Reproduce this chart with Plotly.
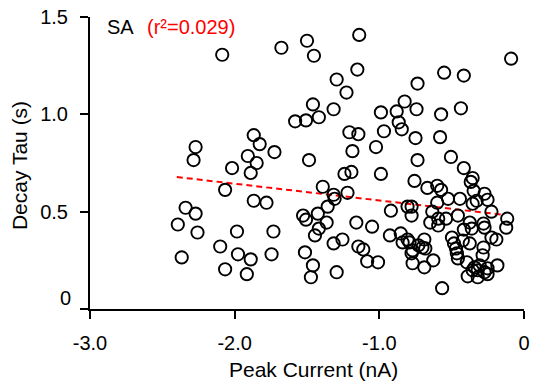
import plotly.graph_objects as go

# Peak current (nA) and decay tau (s)
peak_current = [
    -2.086, -1.677, -2.270, -2.284, -1.868, -1.827, -1.725, -1.909, -1.848,
    -2.018, -1.889, -2.066, -1.868, -1.780, -2.339, -2.270, -2.393, -2.257, -1.984,
    -1.732, -2.100, -2.366, -1.977, -1.889, -1.745, -2.066, -1.916,
    -1.500, -1.452, -1.139, -1.152, -1.295, -1.227, -1.459, -1.316, -1.582, -1.507,
    -1.418, -0.989, -0.880, -0.866, -0.845, -0.825, -0.736, -0.743, -0.552, -0.416,
    -0.089, -0.573, -0.436, -1.207, -1.145, -0.968, -0.750, -0.580, -1.486, -1.186,
    -1.023, -0.736, -0.505, -0.416, -1.241, -1.193, -0.989, -0.757,
    -1.391, -1.316, -1.309, -1.220, -1.357, -1.425, -1.527, -1.507, -1.364, -1.418,
    -1.445, -1.159, -1.050, -0.920, -0.927, -1.316, -1.255, -1.145, -1.111, -1.514,
    -1.084, -1.009, -1.459, -1.295, -1.473,
    -0.668, -0.600, -0.573, -0.525, -0.443, -0.600, -0.805, -0.777, -0.777, -0.634,
    -0.593, -0.539, -0.648, -0.593, -0.852, -0.839, -0.805, -0.791, -0.770, -0.730,
    -0.702, -0.689, -0.682, -0.777, -0.770, -0.689, -0.627, -0.566,
    -0.355, -0.368, -0.348, -0.273, -0.252, -0.327, -0.355, -0.225, -0.116, -0.123,
    -0.457, -0.375, -0.361, -0.416, -0.280, -0.273, -0.225, -0.191, -0.498, -0.484,
    -0.470, -0.464, -0.457, -0.423, -0.375, -0.280, -0.286, -0.395, -0.341, -0.307,
    -0.252, -0.184, -0.355, -0.320, -0.273, -0.389, -0.320, -0.252,
]
decay_tau = [
    1.306, 1.342, 0.832, 0.765, 0.893, 0.847, 0.806, 0.786, 0.750,
    0.724, 0.699, 0.612, 0.556, 0.546, 0.520, 0.490, 0.434, 0.393, 0.398,
    0.398, 0.321, 0.265, 0.281, 0.255, 0.281, 0.204, 0.179,
    1.378, 1.301, 1.408, 1.230, 1.179, 1.112, 1.051, 1.026, 0.964, 0.969,
    0.985, 1.010, 1.015, 0.959, 0.923, 1.066, 1.158, 1.026, 1.214, 1.199,
    1.286, 1.000, 1.031, 0.908, 0.898, 0.913, 0.878, 0.883, 0.765, 0.811,
    0.832, 0.765, 0.781, 0.724, 0.694, 0.704, 0.694, 0.658,
    0.628, 0.587, 0.566, 0.597, 0.526, 0.490, 0.480, 0.459, 0.444, 0.413,
    0.378, 0.444, 0.423, 0.505, 0.378, 0.337, 0.357, 0.321, 0.306, 0.291,
    0.245, 0.240, 0.224, 0.189, 0.163,
    0.622, 0.633, 0.612, 0.566, 0.566, 0.546, 0.526, 0.526, 0.480, 0.500,
    0.464, 0.464, 0.444, 0.429, 0.388, 0.342, 0.357, 0.342, 0.301, 0.327,
    0.316, 0.357, 0.311, 0.286, 0.235, 0.214, 0.250, 0.107,
    0.673, 0.653, 0.607, 0.592, 0.561, 0.556, 0.541, 0.500, 0.464, 0.418,
    0.480, 0.444, 0.413, 0.408, 0.439, 0.418, 0.367, 0.357, 0.367, 0.337,
    0.311, 0.286, 0.260, 0.352, 0.337, 0.316, 0.276, 0.240, 0.214, 0.224,
    0.209, 0.224, 0.199, 0.199, 0.189, 0.168, 0.163, 0.179,
]

# Regression line end points
fit_x = [-2.40, -0.157]
fit_y = [0.678, 0.485]

x_ticks = [-3.0, -2.0, -1.0, 0.0]
x_tick_text = ["-3.0", "-2.0", "-1.0", "0"]
y_ticks = [0.0, 0.5, 1.0, 1.5]
y_tick_text = ["", "0.5", "1.0", "1.5"]

FONT = "Liberation Sans, Arial, sans-serif"

fig = go.Figure()
fig.add_trace(go.Scatter(
    x=fit_x, y=fit_y, mode="lines",
    line=dict(color="#ff0000", width=2, dash="6px,4px"),
    showlegend=False, hoverinfo="skip",
))
fig.add_trace(go.Scatter(
    x=peak_current, y=decay_tau, mode="markers",
    marker=dict(size=12.3, color="rgba(0,0,0,0)", line=dict(color="black", width=1.9)),
    showlegend=False, cliponaxis=False,
))

fig.update_layout(
    width=536, height=381,
    margin=dict(l=90, r=6, t=15, b=72),
    plot_bgcolor="white", paper_bgcolor="white",
    font=dict(family=FONT, size=20, color="black"),
    xaxis=dict(
        range=[-3.0, 0.0], tickvals=x_ticks, ticktext=x_tick_text,
        showgrid=False, zeroline=False, showline=True, linecolor="black", linewidth=2,
        ticks="outside", ticklen=8, tickwidth=2, tickcolor="black",
        ticklabelstandoff=7, tickfont=dict(size=20),
    ),
    yaxis=dict(
        range=[0.0, 1.5], tickvals=y_ticks, ticktext=y_tick_text,
        showgrid=False, zeroline=False, showline=True, linecolor="black", linewidth=2,
        ticks="outside", ticklen=8, tickwidth=2, tickcolor="black",
        ticklabelstandoff=8, tickfont=dict(size=20),
    ),
    annotations=[
        dict(text="0", xref="paper", yref="y", x=0, y=0.055, xanchor="right",
             yanchor="middle", xshift=-17, showarrow=False, font=dict(size=20)),
        dict(text="Peak Current (nA)", xref="paper", yref="paper", x=0.515, y=-0.2075,
             xanchor="center", yanchor="middle", showarrow=False, font=dict(size=21)),
        dict(text="Decay Tau (s)", xref="paper", yref="paper", x=-0.161, y=0.49,
             xanchor="center", yanchor="middle", textangle=-90, showarrow=False,
             font=dict(size=21)),
        dict(text="SA", xref="paper", yref="paper", x=0.034, y=0.966,
             xanchor="left", yanchor="middle", showarrow=False, font=dict(size=20)),
        dict(text="(r\u00b2=0.029)", xref="paper", yref="paper", x=0.127, y=0.966,
             xanchor="left", yanchor="middle", showarrow=False,
             font=dict(size=20, color="#ff0000")),
    ],
)

fig.write_html("out.html")
